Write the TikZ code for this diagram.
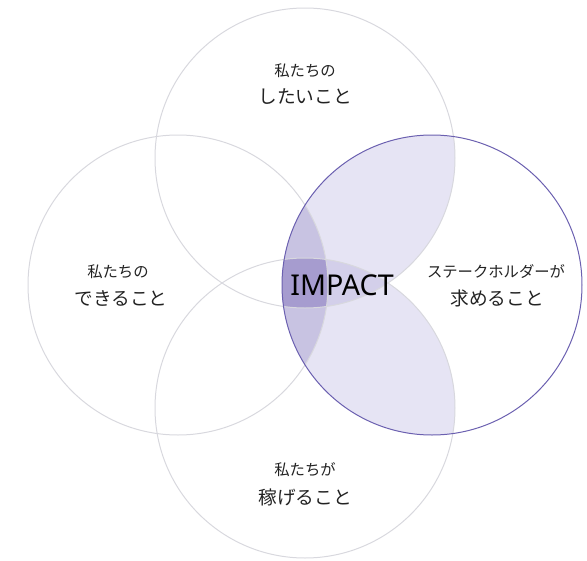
\documentclass[tikz,border=0pt]{standalone}
\usepackage{fontspec}
\setmainfont{Noto Sans CJK JP}
\newfontfamily\latinfont{Noto Sans}
\definecolor{ringgray}{RGB}{216,216,222}
\definecolor{ringpurple}{RGB}{107,96,176}
\definecolor{lenslight}{RGB}{230,228,244}
\definecolor{lensmid}{RGB}{211,207,234}
\definecolor{lensleft}{RGB}{200,195,226}
\definecolor{lensdark}{RGB}{166,156,207}
\definecolor{labeltext}{RGB}{34,34,34}
\tikzset{every picture/.style={line width=0.75pt}}
\tikzset{
  smalllabel/.style={text=labeltext,font=\fontsize{11.5}{13}\selectfont,inner sep=0pt},
  biglabel/.style={text=labeltext,font=\fontsize{14}{16}\selectfont,inner sep=0pt}
}

\begin{document}
\begin{tikzpicture}[x=0.75pt,y=0.75pt,yscale=-1,xscale=1]
	\useasboundingbox (0,0) rectangle (587,561);

	\coordinate (want) at (305,158);
	\coordinate (can) at (178,285);
	\coordinate (need) at (432,285);
	\coordinate (earn) at (305,408);

	%Shape: Lens [right with top and bottom]
	\begin{scope}
		\clip (need) circle (150);
		\fill [lenslight] (want) circle (150);
		\fill [lenslight] (earn) circle (150);
		\clip (want) circle (150);
		\fill [lensmid] (earn) circle (150);
	\end{scope}
	%Shape: Lens [right with left]
	\begin{scope}
		\clip (need) circle (150);
		\fill [lensleft] (can) circle (150);
		\clip (can) circle (150);
		\clip (want) circle (150);
		\fill [lensdark] (earn) circle (150);
	\end{scope}

	%Shape: Circle [want]
	\draw [ringgray] (want) circle (150);
	%Shape: Circle [can]
	\draw [ringgray] (can) circle (150);
	%Shape: Circle [earn]
	\draw [ringgray] (earn) circle (150);
	%Shape: Circle [need]
	\draw [ringpurple] (need) circle (150);

	% Text Node
	\node [smalllabel] (want1) at (305,71) {私たちの};
	\node [biglabel] (want2) at (305,97) {したいこと};
	% Text Node
	\node [smalllabel] (can1) at (118,272) {私たちの};
	\node [biglabel] (can2) at (121,298) {できること};
	% Text Node
	\node [smalllabel] (need1) at (496,272) {ステークホルダーが};
	\node [biglabel] (need2) at (497,298) {求めること};
	% Text Node
	\node [smalllabel] (earn1) at (305,470) {私たちが};
	\node [biglabel] (earn2) at (305,497) {稼げること};
	% Text Node
	\node [text=black,font=\latinfont\fontsize{21.5}{24}\selectfont,inner sep=0pt] (impact) at (342,285) {IMPACT};

\end{tikzpicture}
\end{document}
